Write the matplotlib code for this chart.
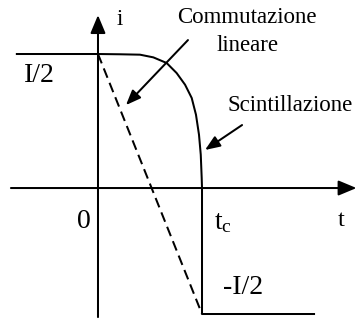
import matplotlib
matplotlib.use("Agg")
import matplotlib.pyplot as plt

plt.rcParams['font.family'] = ['Liberation Serif', 'DejaVu Serif']
plt.rcParams['mathtext.fontset'] = 'custom'
plt.rcParams['mathtext.rm'] = 'Liberation Serif'
plt.rcParams['mathtext.it'] = 'Liberation Serif'

# t in units of tc, i in units of I/2
curve_t = [-0.78, 0.0, 0.212, 0.404, 0.532, 0.660, 0.756, 0.837, 0.901,
           0.942, 0.971, 0.988, 0.997, 1.0, 1.0, 2.077]
curve_i = [1.0, 1.0, 0.998, 0.995, 0.975, 0.933, 0.858, 0.771, 0.672,
           0.547, 0.398, 0.249, 0.075, 0.0, -0.94, -0.94]
linear_t = [0.0, 1.0]
linear_i = [1.0, -0.94]

LW = 1.45
fig = plt.figure(figsize=(3.57, 3.25), dpi=100)
ax = fig.add_axes([0, 0, 1, 1])
ax.set_xlim(-0.942, 2.490)
ax.set_ylim(-1.022, 1.403)
ax.axis('off')

ax.plot(curve_t, curve_i, color='black', lw=LW, solid_joinstyle='round')
ax.plot(linear_t, linear_i, color='black', lw=LW, linestyle=(0, (5, 2.7)))

# axes with arrows
axis_style = '-|>,head_length=0.55,head_width=0.23'
ax.annotate('', xy=(0, 1.29), xytext=(0, -0.963),
            arrowprops=dict(arrowstyle=axis_style, color='black', lw=LW,
                            mutation_scale=20, shrinkA=0, shrinkB=0))
ax.annotate('', xy=(2.485, 0), xytext=(-0.837, 0),
            arrowprops=dict(arrowstyle=axis_style, color='black', lw=LW,
                            mutation_scale=20, shrinkA=0, shrinkB=0))

# annotation arrows
note_style = '-|>,head_length=0.45,head_width=0.18'
ax.annotate('', xy=(0.269, 0.619), xytext=(0.865, 1.104),
            arrowprops=dict(arrowstyle=note_style, color='black', lw=LW,
                            mutation_scale=20, shrinkA=0, shrinkB=0))
ax.annotate('', xy=(1.029, 0.284), xytext=(1.385, 0.47),
            arrowprops=dict(arrowstyle=note_style, color='black', lw=LW,
                            mutation_scale=20, shrinkA=0, shrinkB=0))

big = 20
small = 16.5
ax.text(0.212, 1.254, 'i', fontsize=small, ha='center', va='center')
ax.text(1.433, 1.269, 'Commutazione', fontsize=small, ha='center', va='center')
ax.text(1.442, 1.067, 'lineare', fontsize=small, ha='center', va='center')
ax.text(1.846, 0.619, 'Scintillazione', fontsize=small, ha='center', va='center')
ax.text(-0.567, 0.836, 'I/2', fontsize=big, ha='center', va='center')
ax.text(-0.135, -0.246, '0', fontsize=big, ha='center', va='center')
ax.text(1.202, -0.26, r'$\mathregular{t_c}$', fontsize=big, ha='center', va='center')
ax.text(2.337, -0.246, 't', fontsize=17.5, ha='center', va='center')
ax.text(1.394, -0.739, '-I/2', fontsize=big, ha='center', va='center')

fig.savefig('out.png', dpi=100)
